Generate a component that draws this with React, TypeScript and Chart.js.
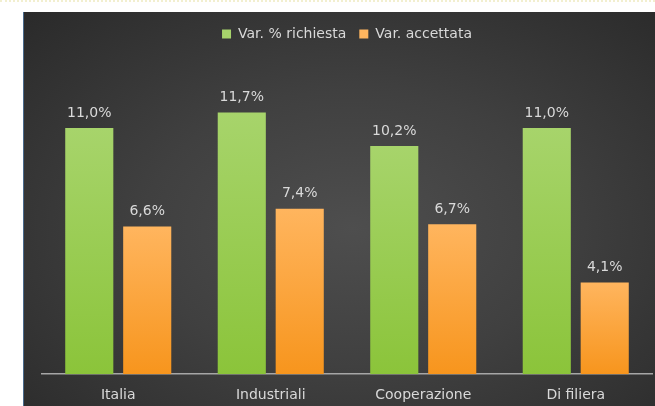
import React, { useEffect, useRef } from "react";
import { Chart, registerables } from "chart.js";

Chart.register(...registerables);

const categories = ["Italia", "Industriali", "Cooperazione", "Di filiera"];
const seriesNames = ["Var. % richiesta", "Var. accettata"];
const richiesta = [11.0, 11.7, 10.2, 11.0];
const accettata = [6.6, 7.4, 6.7, 4.1];

const FONT = "'DejaVu Sans', sans-serif";
const TEXT = "#d9d9d9";

function barGradient(top: string, bottom: string, solid: string) {
  return (ctx: any) => {
    const chart = ctx.chart;
    if (!chart.chartArea || ctx.raw === undefined || ctx.raw === null) return solid;
    const ys = chart.scales.y;
    const yTop = ys.getPixelForValue(ctx.raw);
    const yBot = ys.getPixelForValue(0);
    if (!isFinite(yTop) || !isFinite(yBot) || yTop === yBot) return solid;
    const g = chart.ctx.createLinearGradient(0, yTop, 0, yBot);
    g.addColorStop(0, top);
    g.addColorStop(1, bottom);
    return g;
  };
}

const valueLabels = {
  id: "valueLabels",
  afterDatasetsDraw(chart: any) {
    const c = chart.ctx;
    c.save();
    c.font = `14px ${FONT}`;
    c.fillStyle = TEXT;
    c.textAlign = "center";
    c.textBaseline = "middle";
    chart.data.datasets.forEach((ds: any, i: number) => {
      const meta = chart.getDatasetMeta(i);
      meta.data.forEach((el: any, j: number) => {
        const v = ds.data[j] as number;
        c.fillText(v.toFixed(1).replace(".", ",") + "%", el.x, el.y - 15);
      });
    });
    c.restore();
  },
};

const legendGap = {
  id: "legendGap",
  beforeInit(chart: any) {
    const legend = chart.legend;
    if (!legend) return;
    const orig = legend.fit;
    legend.fit = function () {
      orig.call(this);
      this.height += 10;
    };
  },
};

export default function App() {
  const ref = useRef<HTMLCanvasElement | null>(null);
  useEffect(() => {
    if (!ref.current) return;
    const chart = new Chart(ref.current, {
      type: "bar",
      data: {
        labels: categories,
        datasets: [
          {
            label: seriesNames[0],
            data: richiesta,
            backgroundColor: barGradient("#a7d46b", "#8bc43a", "#8cc63f"),
            borderWidth: 0,
            barPercentage: 0.83,
            categoryPercentage: 0.76,
          },
          {
            label: seriesNames[1],
            data: accettata,
            backgroundColor: barGradient("#ffb55e", "#f7951d", "#f7a030"),
            borderWidth: 0,
            barPercentage: 0.83,
            categoryPercentage: 0.76,
          },
        ],
      },
      options: {
        animation: false,
        responsive: true,
        maintainAspectRatio: false,
        layout: { padding: { left: 18, right: 3, top: 2, bottom: -11 } },
        plugins: {
          legend: {
            display: true,
            position: "top",
            labels: {
              color: TEXT,
              font: { family: FONT, size: 14 },
              boxWidth: 9,
              boxHeight: 9,
              padding: 13,
            },
          },
          tooltip: { enabled: false },
        },
        scales: {
          x: {
            grid: { display: false, drawTicks: false },
            border: { display: true, color: "#a6a6a6", width: 1.5 },
            ticks: { color: TEXT, font: { family: FONT, size: 14 }, padding: 13 },
          },
          y: {
            display: false,
            min: 0,
            max: 14,
          },
        },
      },
      plugins: [valueLabels, legendGap],
    });
    return () => chart.destroy();
  }, []);

  return (
    <div
      style={{
        position: "fixed",
        left: 0,
        top: 0,
        width: 655,
        height: 406,
        background: "#ffffff",
        overflow: "hidden",
      }}
    >
      <div
        style={{
          position: "absolute",
          left: 0,
          top: 0,
          width: 655,
          height: 2,
          borderTop: "2px dotted #f2efcf",
        }}
      />
      <div
        style={{
          position: "absolute",
          left: 23,
          top: 12,
          width: 632,
          height: 394,
          borderLeft: "1px solid #4a6a8c",
          boxSizing: "border-box",
          background:
            "radial-gradient(ellipse at 52% 55%, #4e4e4e 0%, #404040 45%, #2a2a2a 100%)",
        }}
      >
        <canvas ref={ref} />
      </div>
    </div>
  );
}
